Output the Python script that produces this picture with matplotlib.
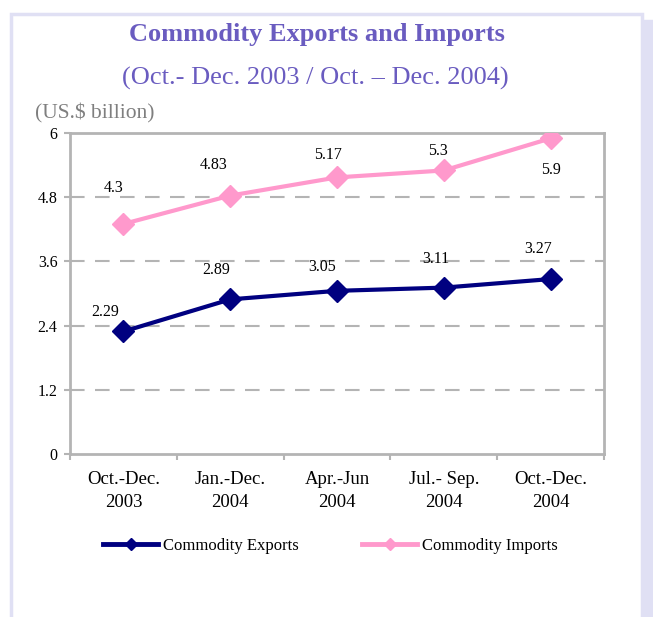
import matplotlib
matplotlib.use("Agg")
import matplotlib.pyplot as plt
from matplotlib.lines import Line2D
from matplotlib.patches import Rectangle

# data
periods = ["Oct.-Dec.\n2003", "Jan.-Dec.\n2004", "Apr.-Jun\n2004",
           "Jul.- Sep.\n2004", "Oct.-Dec.\n2004"]
exports = [2.29, 2.89, 3.05, 3.11, 3.27]
imports = [4.3, 4.83, 5.17, 5.3, 5.9]
y_ticks = [0, 1.2, 2.4, 3.6, 4.8, 6]
y_tick_labels = ["0", "1.2", "2.4", "3.6", "4.8", "6"]

# label offsets in pixels (placement only)
exp_off = [(-18, 19), (-14, 29), (-15, 24), (-8, 29), (-12, 30)]
imp_off = [(-10, 36), (-17, 31), (-9, 22), (-6, 19), (0, -32)]

SERIF = ["Liberation Serif", "DejaVu Serif"]
NAVY = "#000080"
PINK = "#ff99cc"
TITLE_C = "#6a5cc0"
GRID_C = "#b4b4b4"

plt.rcParams["font.family"] = SERIF

fig = plt.figure(figsize=(6.53, 6.17), dpi=100)
fig.patch.set_facecolor("white")

# slide frame
fig.patches.append(Rectangle((642 / 653, 0), 11 / 653, 1 - 20 / 617,
                             transform=fig.transFigure, color="#e0e0f4",
                             zorder=0))
fig.patches.append(Rectangle((11 / 653, -0.05), 631 / 653, 1.05 - 14 / 617,
                             transform=fig.transFigure, facecolor="none",
                             edgecolor="#e0e0f4", lw=2.5, zorder=0))

ax = fig.add_axes([70 / 653, 1 - 454 / 617, 534 / 653, 321 / 617])
x = list(range(len(periods)))

ax.plot(x, exports, color=NAVY, lw=3, marker="D", markersize=11.5, zorder=3)
ax.plot(x, imports, color=PINK, lw=3, marker="D", markersize=11.5, zorder=3)

for xi, v, off in zip(x, exports, exp_off):
    ax.annotate(f"{v:g}", (xi, v), xytext=off, textcoords="offset pixels",
                ha="center", va="center", fontsize=11.5)
for xi, v, off in zip(x, imports, imp_off):
    ax.annotate(f"{v:g}", (xi, v), xytext=off, textcoords="offset pixels",
                ha="center", va="center", fontsize=11.5)

ax.set_xlim(-0.5, len(periods) - 0.5)
ax.set_ylim(0, 6)
ax.set_yticks(y_ticks)
ax.set_yticklabels(y_tick_labels, fontsize=11.5)
ax.set_xticks([i - 0.5 for i in range(len(periods) + 1)])
ax.set_xticklabels([])
ax.set_xticks(x, minor=True)
ax.set_xticklabels(periods, minor=True, fontsize=13.5, linespacing=1.5)
ax.tick_params(axis="x", which="minor", length=0, pad=12)
ax.tick_params(axis="x", which="major", length=4, width=1.5, color=GRID_C)
ax.tick_params(axis="y", length=4, width=1.5, color=GRID_C, pad=5)

for y in y_ticks[1:-1]:
    ax.axhline(y, color=GRID_C, lw=1.5, dashes=(7, 5), zorder=1)
for s in ax.spines.values():
    s.set_color(GRID_C)
    s.set_linewidth(2)

fig.text(317 / 653, 1 - 35 / 617, "Commodity Exports and Imports",
         ha="center", va="center", fontsize=19, fontweight="bold",
         color=TITLE_C)
fig.text(315 / 653, 1 - 78 / 617, "(Oct.- Dec. 2003 / Oct. \u2013 Dec. 2004)",
         ha="center", va="center", fontsize=19, color=TITLE_C)
fig.text(35 / 653, 1 - 113 / 617, "(US.$ billion)", ha="left", va="center",
         fontsize=15.5, color="#7f7f7f")

handles = [Line2D([], [], color=NAVY, lw=3.5, marker="D", markersize=6),
           Line2D([], [], color=PINK, lw=3.5, marker="D", markersize=6)]
fig.legend(handles, ["Commodity Exports", "Commodity Imports"], ncol=2,
           loc="center", bbox_to_anchor=(330 / 653, 1 - 546 / 617),
           frameon=False, fontsize=12, handlelength=3.35,
           handletextpad=0.25, columnspacing=3.8)

fig.savefig("out.png", dpi=100)
